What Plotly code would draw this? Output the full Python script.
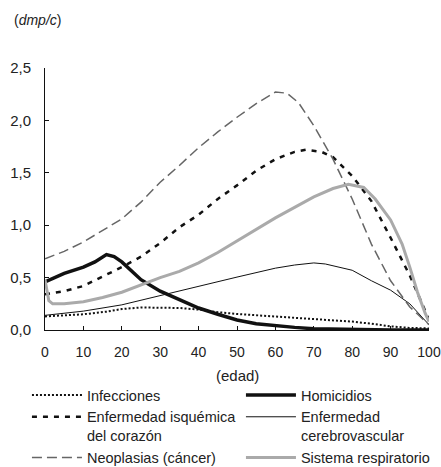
import plotly.graph_objects as go

# ---- data (age in years, value in dmp/c) ----
inf_age = [0, 10, 16, 20, 25, 30, 35, 40, 45, 50, 60, 70, 75, 80, 85, 90, 95, 100]
inf_val = [0.13, 0.15, 0.175, 0.20, 0.215, 0.215, 0.21, 0.195, 0.17, 0.153, 0.13, 0.10, 0.095, 0.08, 0.06, 0.035, 0.02, 0.015]

hom_age = [0, 5, 10, 13, 16, 18, 20, 25, 30, 35, 40, 45, 50, 55, 60, 65, 70, 80, 90, 100]
hom_val = [0.46, 0.54, 0.60, 0.65, 0.72, 0.70, 0.65, 0.48, 0.37, 0.29, 0.21, 0.15, 0.095, 0.06, 0.04, 0.025, 0.012, 0.005, 0.0, 0.0]

isq_age = [0, 5, 10, 15, 20, 25, 30, 35, 40, 45, 50, 55, 60, 65, 68, 72, 75, 80, 85, 90, 95, 100]
isq_val = [0.34, 0.37, 0.42, 0.51, 0.60, 0.70, 0.83, 0.98, 1.10, 1.25, 1.38, 1.52, 1.63, 1.70, 1.72, 1.70, 1.65, 1.47, 1.23, 0.88, 0.52, 0.10]

cer_age = [0, 10, 20, 30, 40, 50, 60, 65, 70, 73, 80, 85, 90, 95, 100]
cer_val = [0.14, 0.18, 0.24, 0.33, 0.42, 0.505, 0.59, 0.62, 0.64, 0.63, 0.57, 0.47, 0.38, 0.25, 0.05]

neo_age = [0, 5, 10, 15, 20, 25, 30, 35, 40, 45, 50, 55, 60, 63, 66, 70, 75, 80, 85, 90, 95, 100]
neo_val = [0.68, 0.75, 0.84, 0.95, 1.06, 1.22, 1.41, 1.57, 1.74, 1.89, 2.03, 2.16, 2.27, 2.26, 2.17, 1.95, 1.63, 1.25, 0.82, 0.47, 0.22, 0.05]

res_age = [0, 1, 2, 5, 10, 15, 20, 25, 30, 35, 40, 45, 50, 55, 60, 65, 70, 75, 79, 83, 86, 90, 93, 95, 97, 99, 100]
res_val = [0.48, 0.28, 0.25, 0.25, 0.27, 0.31, 0.36, 0.43, 0.50, 0.56, 0.64, 0.74, 0.85, 0.96, 1.07, 1.17, 1.27, 1.35, 1.39, 1.36, 1.25, 1.05, 0.82, 0.60, 0.36, 0.16, 0.08]

x_ticks = [0, 10, 20, 30, 40, 50, 60, 70, 80, 90, 100]
y_ticks = [0.0, 0.5, 1.0, 1.5, 2.0, 2.5]

FONT = "Liberation Sans, Arial, sans-serif"
TXT = "#222222"

fig = go.Figure()
fig.add_trace(go.Scatter(x=inf_age, y=inf_val, mode="lines", name="Infecciones",
                         line=dict(color="#111111", width=2, dash="2px,2px")))
fig.add_trace(go.Scatter(x=hom_age, y=hom_val, mode="lines", name="Homicidios",
                         line=dict(color="#111111", width=3.5)))
fig.add_trace(go.Scatter(x=isq_age, y=isq_val, mode="lines", name="Enfermedad isquémica<br>del corazón",
                         line=dict(color="#111111", width=2.5, dash="5px,6px")))
fig.add_trace(go.Scatter(x=cer_age, y=cer_val, mode="lines", name="Enfermedad<br>cerebrovascular",
                         line=dict(color="#111111", width=1)))
fig.add_trace(go.Scatter(x=neo_age, y=neo_val, mode="lines", name="Neoplasias (cáncer)",
                         line=dict(color="#666666", width=1.5, dash="10px,5px")))
fig.add_trace(go.Scatter(x=res_age, y=res_val, mode="lines", name="Sistema respiratorio",
                         line=dict(color="#aaaaaa", width=3)))

fig.update_layout(
    width=441, height=467,
    margin=dict(l=45, r=12, t=68, b=137, autoexpand=False),
    paper_bgcolor="white", plot_bgcolor="white",
    separators=",.",
    font=dict(family=FONT, size=15, color=TXT),
    showlegend=True,
    legend=dict(orientation="h", x=-0.047, xanchor="left", y=-0.187, yanchor="top",
                entrywidth=149, entrywidthmode="pixels", itemwidth=50, valign="top",
                tracegroupgap=0, font=dict(family=FONT, size=14.5, color=TXT),
                bgcolor="rgba(0,0,0,0)"),
    xaxis=dict(range=[0, 100], tickvals=x_ticks, showgrid=False, zeroline=False,
               showline=True, linecolor="#111111", linewidth=1,
               ticks="inside", ticklen=4, tickcolor="#111111",
               ticklabeloverflow="allow", ticklabelstandoff=9,
               tickfont=dict(family=FONT, size=14, color=TXT)),
    yaxis=dict(range=[0, 2.5], tickvals=y_ticks, tickformat=".1f", showgrid=False, zeroline=False,
               showline=True, linecolor="#111111", linewidth=1,
               ticks="inside", ticklen=4, tickcolor="#111111",
               ticklabelstandoff=10,
               tickfont=dict(family=FONT, size=15, color=TXT)),
    annotations=[
        dict(text="(<i>dmp/c</i>)", xref="paper", yref="paper", x=0, y=1,
             xshift=-33, yshift=48, xanchor="left", yanchor="middle", showarrow=False,
             font=dict(family=FONT, size=14, color=TXT)),
        dict(text="(edad)", xref="paper", yref="paper", x=0.5, y=0,
             yshift=-45, xanchor="center", yanchor="middle", showarrow=False,
             font=dict(family=FONT, size=15, color=TXT)),
    ],
)

fig.write_html("out.html", config={"displayModeBar": False},
               post_script="document.body.style.margin='0';document.body.style.padding='0';")
